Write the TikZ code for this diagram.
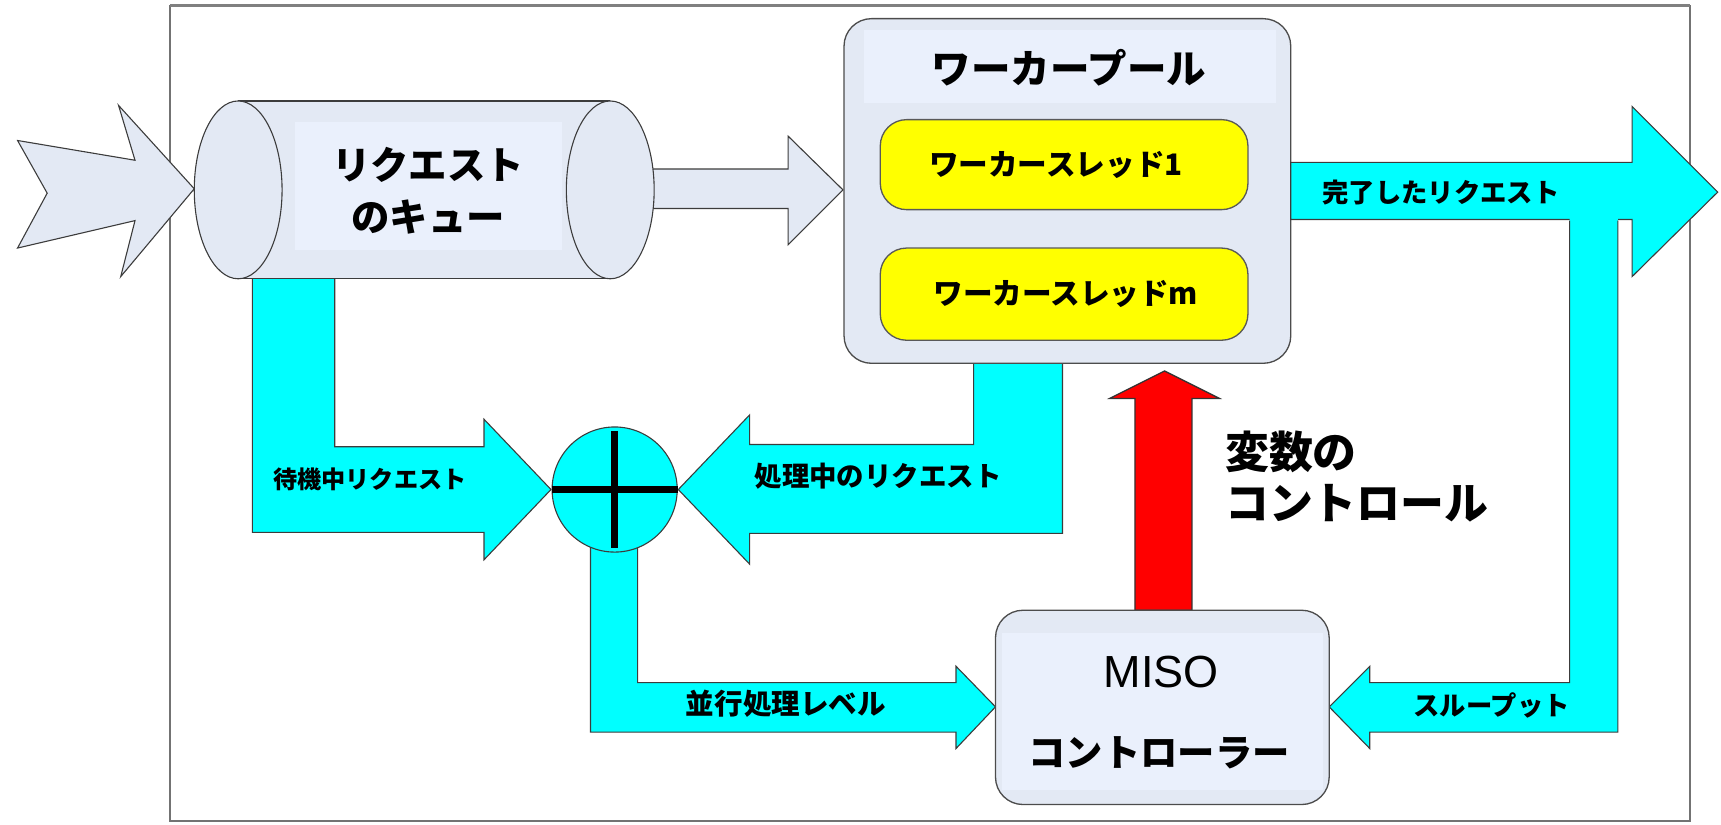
\documentclass[tikz,border=0pt]{standalone}
\usepackage{fontspec}
\setmainfont{Liberation Sans}
\newfontfamily\jp{Noto Sans CJK JP}
\definecolor{cy}{RGB}{0,255,255}
\definecolor{boxfill}{RGB}{227,233,244}
\definecolor{boxlight}{RGB}{234,240,252}
\definecolor{yel}{RGB}{255,255,0}
\definecolor{rd}{RGB}{255,0,0}
\definecolor{edge}{RGB}{60,60,60}
\tikzset{
  cyfill/.style={fill=cy},
  cyline/.style={draw=edge, line width=1pt, line join=miter},
  cyarrow/.style={fill=cy, draw=edge, line width=1pt},
  lightarrow/.style={fill=boxfill, draw=edge, line width=1pt},
  panel/.style={draw=black!70, line width=1.2pt, fill=boxfill, rounded corners=25pt},
  thread/.style={draw=black!65, line width=1.2pt, fill=yel, rounded corners=24pt},
  lbl/.style={font=\jp\bfseries\fontsize{24}{28}\selectfont, inner sep=0pt},
}
\begin{document}
\begin{tikzpicture}[x=1pt,y=-1pt]
\useasboundingbox (0,0) rectangle (1568,751);
% frame
\draw[black!55, line width=1.5pt] (155,5) rectangle (1540,748);
\draw[black!50, line width=3pt] (155,5) -- (1540,5);
% input arrow
\draw[lightarrow, line join=miter] (16,128) -- (123,146) -- (108,96) -- (177,172) -- (110,252) -- (123,201) -- (16,226) -- (43,176) -- cycle;
% waiting requests L-arrow
\draw[cyarrow] (230,200) -- (305,200) -- (305,407) -- (441,407) -- (441,382) -- (502,446) -- (441,510) -- (441,485) -- (230,485) -- cycle;
% queue -> pool arrow
\draw[lightarrow] (580,154) -- (718,154) -- (718,124) -- (768,173) -- (718,223) -- (718,190) -- (580,190) -- cycle;
% cylinder
\fill[boxfill] (217,92) rectangle (556,254);
\draw[edge, line width=1pt] (217,92) -- (556,92) (217,254) -- (556,254);
\draw[edge, line width=1pt, fill=boxfill] (217,173) ellipse [x radius=40, y radius=81];
\draw[edge, line width=1pt, fill=boxfill] (556,173) ellipse [x radius=40, y radius=81];
\fill[boxlight] (269,111) rectangle (512,228);
\node[font=\jp\bfseries\fontsize{35}{47}\selectfont, align=center, inner sep=0pt] (queue) at (390,174) {リクエスト\\のキュー};
% in-process requests L-arrow
\draw[cyarrow] (887,320) -- (968,320) -- (968,486) -- (683,486) -- (683,514) -- (618,446) -- (683,378) -- (683,405) -- (887,405) -- cycle;
% worker pool
\draw[panel] (769,17) rectangle (1176,331);
\fill[boxlight] (787,27) rectangle (1163,94);
\node[font=\jp\bfseries\fontsize{36}{40}\selectfont, inner sep=0pt] (pool) at (974,62) {ワーカープール};
\draw[thread] (802,109) rectangle (1137,191);
\node[font=\jp\bfseries\fontsize{27}{30}\selectfont, inner sep=0pt] (t1) at (962,150) {ワーカースレッド1};
\draw[thread] (802,226) rectangle (1137,310);
\node[font=\jp\bfseries\fontsize{27}{30}\selectfont, inner sep=0pt] (tm) at (971,268) {ワーカースレッドm};
% completed requests arrow
\draw[cyarrow] (1176,148) -- (1487,148) -- (1487,97) -- (1565,175) -- (1487,252) -- (1487,200) -- (1176,200) -- cycle;
\node[lbl] (done) at (1313,175) {完了したリクエスト};
% throughput L-arrow
\fill[cyfill] (1430,196) -- (1474,196) -- (1474,667) -- (1248,667) -- (1248,682) -- (1211,644) -- (1248,607) -- (1248,622) -- (1430,622) -- cycle;
\draw[cyline] (1474,201) -- (1474,667) -- (1248,667) -- (1248,682) -- (1211,644) -- (1248,607) -- (1248,622) -- (1430,622) -- (1430,201);
\node[lbl] (tp) at (1359,643) {スループット};
% concurrency L-arrow
\draw[cyarrow] (538,495) -- (581,495) -- (581,622) -- (871,622) -- (871,607) -- (907,644) -- (871,682) -- (871,667) -- (538,667) -- cycle;
\node[font=\jp\bfseries\fontsize{26}{30}\selectfont, inner sep=0pt] (cl) at (716,641) {並行処理レベル};
% summing junction
\node[circle, fill=cy, draw=edge, line width=1pt, minimum size=114pt, inner sep=0pt] (sum) at (560,446) {};
\draw[line width=6pt] (sum.west) -- (sum.east);
\draw[line width=6pt] ([yshift=-4pt]sum.north) -- ([yshift=4pt]sum.south);
% labels of the inputs
\node[font=\jp\bfseries\fontsize{22}{26}\selectfont, inner sep=0pt] (wait) at (337,437) {待機中リクエスト};
\node[font=\jp\bfseries\fontsize{25}{28}\selectfont, inner sep=0pt] (proc) at (800,434) {処理中のリクエスト};
% red control arrow
\draw[fill=rd, draw=black!80, line width=1.2pt] (1034,556) -- (1034,363) -- (1011,363) -- (1061,338) -- (1111,363) -- (1086,363) -- (1086,556) -- cycle;
\node[font=\jp\bfseries\fontsize{40}{47}\selectfont, align=left, anchor=north west, inner sep=0pt] (ctrl) at (1116,392) {変数の\\コントロール};
% controller
\draw[panel] (907,556) rectangle (1211,733);
\fill[boxlight] (913,577) rectangle (1205,720);
\node[font=\fontsize{41}{45}\selectfont, inner sep=0pt] (miso) at (1058,612) {MISO};
\node[font=\jp\bfseries\fontsize{34}{40}\selectfont, inner sep=0pt] (mc) at (1056,686) {コントローラー};
\end{tikzpicture}
\end{document}
